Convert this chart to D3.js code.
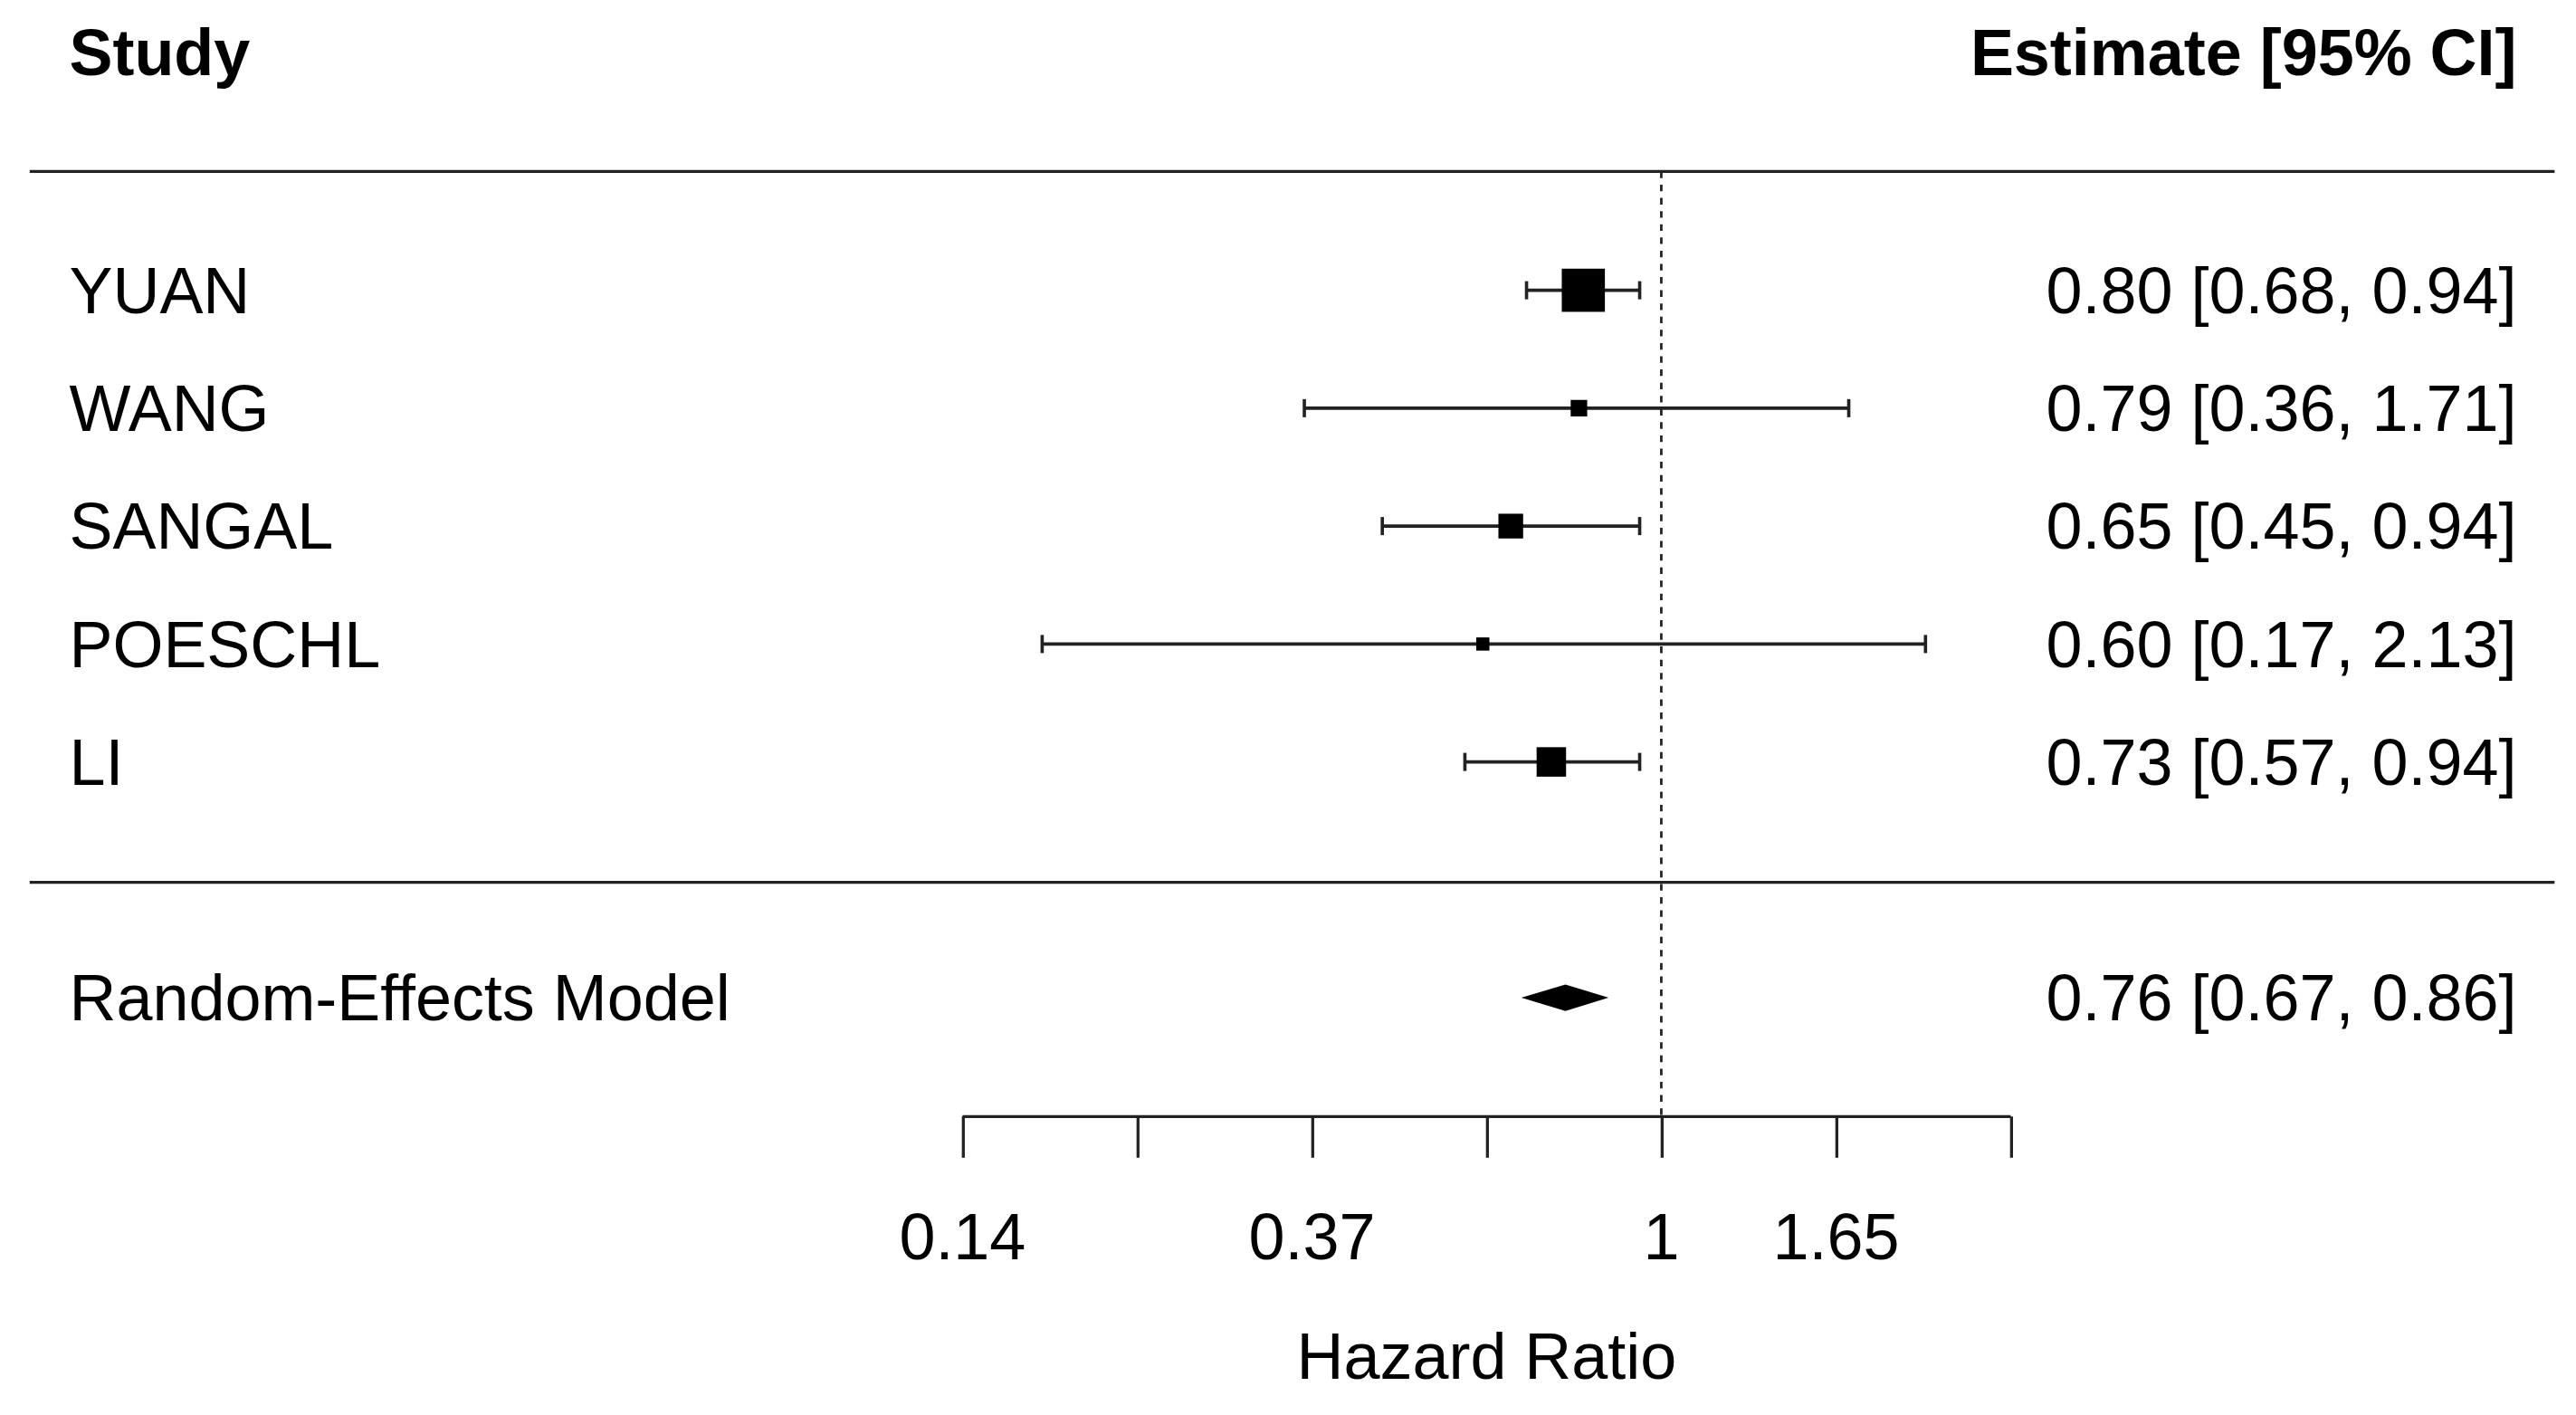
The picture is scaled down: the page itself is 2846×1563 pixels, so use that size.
<!DOCTYPE html>
<html><head><meta charset="utf-8">
<script src="https://cdn.jsdelivr.net/npm/d3@7"></script>
<style>html,body{margin:0;padding:0;background:#fff}</style>
</head><body>
<script>
const studies = ["YUAN","WANG","SANGAL","POESCHL","LI"];
const est = [0.80,0.79,0.65,0.60,0.73];
const lower = [0.68,0.36,0.45,0.17,0.57];
const upper = [0.94,1.71,0.94,2.13,0.94];
const weights = [45,6.6,14.8,4.2,21];
const modelLabel = "Random-Effects Model";
const modelEst = 0.76, modelLo = 0.67, modelHi = 0.86;
const tickLogs = [-2,-1.5,-1,-0.5,0,0.5,1];
const tickLabels = {"-2":"0.14","-1":"0.37","0":"1","0.5":"1.65"};

const W=1563,H=858;
const svg=d3.select("body").append("svg").attr("width",2846).attr("height",1563)
  .attr("viewBox",`0 0 ${W} ${H}`).attr("preserveAspectRatio","none").style("font-family","'Liberation Sans',Arial,sans-serif");
const x=d3.scaleLinear().domain([-2,1]).range([584,1220]);
const y=d3.scaleLinear().domain([0,4]).range([176,462]);
const fs=39.5, col="#222";
const fmt=d3.format(".2f");

svg.append("text").attr("x",42).attr("y",32).attr("dy","0.35em").attr("font-size",fs).attr("font-weight","bold").text("Study");
svg.append("text").attr("x",1527).attr("y",32).attr("dy","0.35em").attr("font-size",fs).attr("font-weight","bold").attr("text-anchor","end").text("Estimate [95% CI]");
[104,535].forEach(v=>svg.append("line").attr("x1",18).attr("x2",1550).attr("y1",v).attr("y2",v).attr("stroke",col).attr("stroke-width",1.8));
svg.append("line").attr("x1",x(0)).attr("x2",x(0)).attr("y1",104).attr("y2",677).attr("stroke",col).attr("stroke-width",1.5).attr("stroke-dasharray","4,4");

const g=svg.append("g");
studies.forEach((s,i)=>{
  const yy=y(i);
  g.append("text").attr("x",42).attr("y",yy).attr("dy","0.35em").attr("font-size",fs).text(s);
  g.append("text").attr("x",1527).attr("y",yy).attr("dy","0.35em").attr("font-size",fs).attr("text-anchor","end")
   .text(`${fmt(est[i])} [${fmt(lower[i])}, ${fmt(upper[i])}]`);
  const x1=x(Math.log(lower[i])),x2=x(Math.log(upper[i]));
  g.append("line").attr("x1",x1).attr("x2",x2).attr("y1",yy).attr("y2",yy).attr("stroke",col).attr("stroke-width",2);
  [x1,x2].forEach(xx=>g.append("line").attr("x1",xx).attr("x2",xx).attr("y1",yy-5.5).attr("y2",yy+5.5).attr("stroke",col).attr("stroke-width",2));
  const sz=3.9*Math.sqrt(weights[i]);
  g.append("rect").attr("x",x(Math.log(est[i]))-sz/2).attr("y",yy-sz/2).attr("width",sz).attr("height",sz).attr("fill","#000");
});
const my=605;
svg.append("text").attr("x",42).attr("y",my).attr("dy","0.35em").attr("font-size",fs).text(modelLabel);
svg.append("text").attr("x",1527).attr("y",my).attr("dy","0.35em").attr("font-size",fs).attr("text-anchor","end")
  .text(`${fmt(modelEst)} [${fmt(modelLo)}, ${fmt(modelHi)}]`);
const a=x(Math.log(modelLo)),b=x(Math.log(modelHi)),c=x(Math.log(modelEst));
svg.append("path").attr("d",`M${a},${my}L${c},${my-8}L${b},${my}L${c},${my+8}Z`).attr("fill","#000");

const axis=d3.axisBottom(x).tickValues(tickLogs).tickSize(25).tickSizeOuter(0).tickFormat(()=> "");
const ag=svg.append("g").attr("transform","translate(0,677)").call(axis);
ag.select(".domain").attr("stroke",col).attr("stroke-width",1.8).attr("d",`M${x(-2)},0H${x(1)}`);
ag.selectAll(".tick line").attr("stroke",col).attr("stroke-width",1.8);
tickLogs.forEach(t=>{ if(tickLabels[String(t)]) svg.append("text").attr("x",x(t)).attr("y",750).attr("dy","0.35em").attr("font-size",fs).attr("text-anchor","middle").text(tickLabels[String(t)]); });
svg.append("text").attr("x",902).attr("y",822).attr("dy","0.35em").attr("font-size",fs).attr("text-anchor","middle").text("Hazard Ratio");
</script>
</body></html>
